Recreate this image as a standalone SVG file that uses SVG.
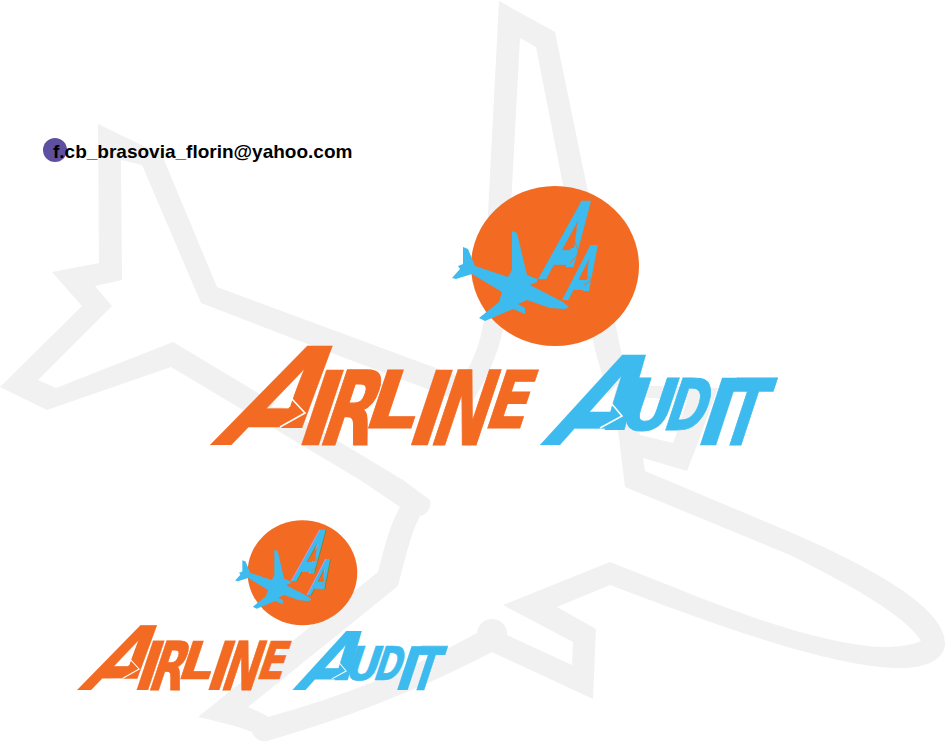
<svg xmlns="http://www.w3.org/2000/svg" width="945" height="742" viewBox="0 0 945 742">
<style>
.l{font-family:"DejaVu Sans","Liberation Sans",sans-serif;font-weight:700;font-size:100px}
.o{fill:#f36a23;stroke:#f36a23;stroke-width:1.2}
.b{fill:#3dbbee;stroke:#3dbbee;stroke-width:1.2}
.n{stroke-width:.3}
.w{fill:none;stroke:#fff;stroke-width:1.6}
.h{fill:#fff}
.ho{fill:#f36a23}
.t{fill:none;stroke:#f36a23;stroke-width:.8}
.mail{font-family:"Liberation Sans",Arial,sans-serif;font-weight:700;font-size:19px;fill:#000}
</style>
<defs>
<g id="badge">
<ellipse cx="555" cy="266" rx="84" ry="80" fill="#f36a23"/>
<path fill="#3dbbee" d="M463,247 468,249 475,266 508,277 512,270 512,231 517,233 527,275 537,279 537,282 530,285 563,302 569,307 565,309 550,308 527,300 518,304 525,308 525,314 513,309 485,321 479,318 499,302 502,292 472,274 456,279 452,278 460,269 458,266 463,264Z"/>
</g>
<clipPath id="c1"><polygon points="530,195 600,195 600,267 555,267 548,279 530,279"/></clipPath>
<clipPath id="c2"><polygon points="555,240 605,240 605,291 577,291 572,300 555,300"/></clipPath>
<clipPath id="c3"><polygon points="200,340 345,340 345,428 262,428 235,445 200,445"/></clipPath>
<clipPath id="c4"><polygon points="530,350 660,350 660,430 580,430 565,445 530,445"/></clipPath>
</defs>
<path id="plane-outline" fill="#f1f1f1" fill-rule="evenodd" d="M98,124 162,155 217,287 463,378 C472,362 484,340 486,300 L488,213 499,1 555,32 587,187 628,385 718,388 697,445 687,471 643,458 645,471 797,535 C860,563 945,605 945,643 C945,662 920,669 897,668 C830,666 720,627 610,585 L557,607 596,629 593,699 492,652 C420,690 340,720 270,740 A13,13 0 0 1 252,732 C235,725 215,721 198,717 L378,572 C385,545 390,525 400,507 L360,480 171,367 47,410 0,387 82,306 52,272 99,263Z M121,160 122,280 95,286 112,306 38,380 56,388 173,342 403,480 430,500 A13,13 0 0 1 420,516 C410,535 405,560 398,586 L248,707 C255,710 262,713 268,717 C340,697 410,670 477,633 A15,15 0 0 1 507,635 L572,665 573,642 503,605 610,562 C700,597 780,633 860,645 C880,648 905,648 921,641 C905,615 850,585 790,555 L625,487 618,430 595,350 563,185 536,47 520,38 512,187 507,300 C505,340 490,375 470,405 L297,340 201,303 142,165Z M640,435 673,443 677,432 687,400 631,397Z"/>
<circle cx="55" cy="150" r="12" fill="#5f4fa0"/>
<text class="mail" x="53" y="157.5">f.cb_brasovia_florin@yahoo.com</text>
<g id="logo-large">
<use href="#badge"/>
<g clip-path="url(#c1)"><text class="l b n" transform="matrix(.42,0,-.439,1.07,538,279)">A</text></g>
<polygon class="ho" points="563,248 577,227 574,248"/>
<g clip-path="url(#c2)"><text class="l b n" transform="matrix(.327,0,-.267,.754,562,300)">A</text></g>
<polygon class="ho" points="579,280 588,262 587,280"/>
<path class="t" d="M575,242 579,253 570,263M585,275 592,280 584,285"/>
<g clip-path="url(#c3)"><text class="l o n" transform="matrix(1.12,0,-.919,1.358,209.4,445)">A</text></g>
<polygon class="h" points="271,407 300,377 290,407"/>
<path class="w" d="M292,399 305,413 280,427"/>
<text class="l o n" transform="matrix(.92,0,-.343,1.03,293,445)">I</text>
<text class="l o" transform="matrix(.68,0,-.343,1.03,316,445)">R</text>
<text class="l o" transform="matrix(.82,0,-.265,.796,361,428)">L</text>
<text class="l o n" transform="matrix(.88,0,-.343,1.03,403,445)">I</text>
<text class="l o" transform="matrix(.66,0,-.343,1.03,427,445)">N</text>
<text class="l o" transform="matrix(.62,0,-.265,.796,482,428)">E</text>
<g clip-path="url(#c4)"><text class="l b n" transform="matrix(1.046,0,-.741,1.235,539.5,445)">A</text></g>
<polygon class="h" points="592,411 617,385 610,411"/>
<path class="w" d="M611,403 622,416 600,428"/>
<text class="l b" transform="matrix(.64,0,-.237,.713,616,430)">U</text>
<text class="l b" transform="matrix(.5,0,-.237,.713,661,430)">D</text>
<text class="l b n" transform="matrix(.84,0,-.302,.919,692.4,445)">I</text>
<text class="l b" transform="matrix(.6,0,-.302,.919,715,445)">T</text>
</g>
<g id="logo-small" transform="matrix(.653,0,0,.655,-60,398.5)">
<use href="#badge"/>
<g clip-path="url(#c1)"><text class="l b n" transform="matrix(.42,0,-.439,1.07,538,279)">A</text></g>
<polygon class="ho" points="563,248 577,227 574,248"/>
<g clip-path="url(#c2)"><text class="l b n" transform="matrix(.327,0,-.267,.754,562,300)">A</text></g>
<polygon class="ho" points="579,280 588,262 587,280"/>
<path class="t" d="M575,242 579,253 570,263M585,275 592,280 584,285"/>
<g clip-path="url(#c3)"><text class="l o n" transform="matrix(1.12,0,-.919,1.358,209.4,445)">A</text></g>
<polygon class="h" points="271,407 300,377 290,407"/>
<path class="w" d="M292,399 305,413 280,427"/>
<text class="l o n" transform="matrix(.92,0,-.343,1.03,293,445)">I</text>
<text class="l o" transform="matrix(.68,0,-.343,1.03,316,445)">R</text>
<text class="l o" transform="matrix(.82,0,-.265,.796,361,428)">L</text>
<text class="l o n" transform="matrix(.88,0,-.343,1.03,403,445)">I</text>
<text class="l o" transform="matrix(.66,0,-.343,1.03,427,445)">N</text>
<text class="l o" transform="matrix(.62,0,-.265,.796,482,428)">E</text>
<g clip-path="url(#c4)"><text class="l b n" transform="matrix(1.046,0,-.741,1.235,539.5,445)">A</text></g>
<polygon class="h" points="592,411 617,385 610,411"/>
<path class="w" d="M611,403 622,416 600,428"/>
<text class="l b" transform="matrix(.64,0,-.237,.713,616,430)">U</text>
<text class="l b" transform="matrix(.5,0,-.237,.713,661,430)">D</text>
<text class="l b n" transform="matrix(.84,0,-.302,.919,692.4,445)">I</text>
<text class="l b" transform="matrix(.6,0,-.302,.919,715,445)">T</text>
</g>
</svg>
